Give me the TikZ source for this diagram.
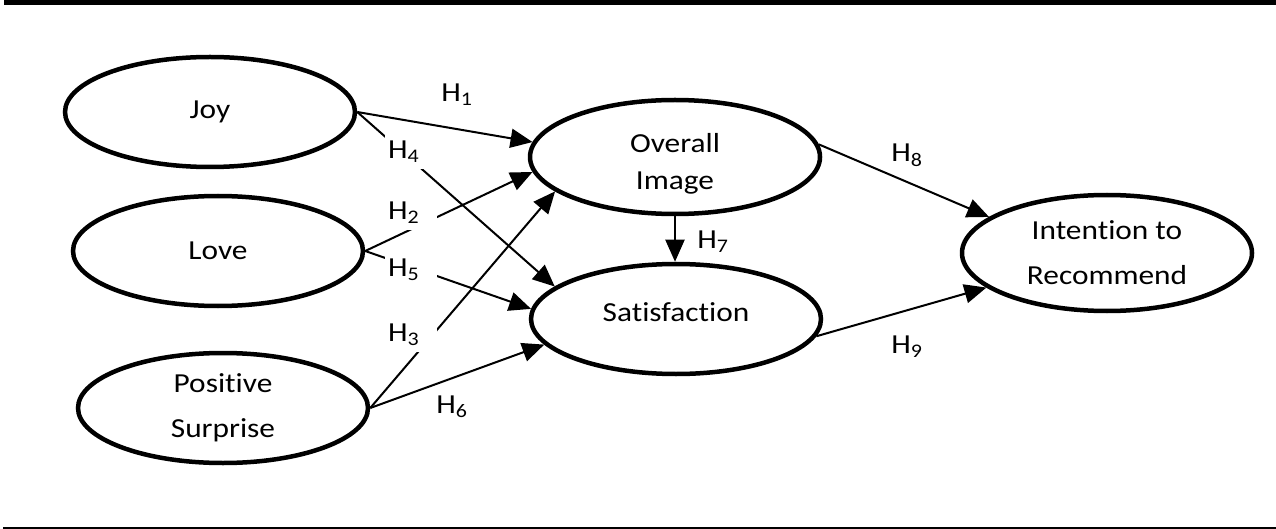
\documentclass[tikz,border=0pt]{standalone}
\usepackage{fontspec}
\setmainfont[FakeStretch=1.14,Ligatures=NoCommon]{Carlito}
\usetikzlibrary{arrows.meta,shapes.geometric,calc}
\begin{document}
\begin{tikzpicture}[x=1pt,y=-1pt,
  construct/.style={ellipse,draw,line width=4.5pt,minimum width=290pt,minimum height=110pt,inner sep=0pt,align=center,font=\fontsize{27.5}{45}\selectfont},
  link/.style={line width=2pt,-{Triangle[length=22pt,width=19pt]}},
  hyp/.style={font=\fontsize{27.5}{33}\selectfont,inner sep=0pt},
  cut/.style={hyp,fill=white,text width=46pt,align=left,inner xsep=3pt,minimum height=34pt}]
\useasboundingbox (0,0) rectangle (1276,529);
\draw[line width=5pt] (4,2.5) -- (1276,2.5);
\draw[line width=2pt] (3,527.5) -- (1276,527.5);
% constructs
\node[construct] (joy) at (210,112) {Joy};
\node[construct] (love) at (218,251) {Love};
\node[construct] (ps) at (223,408) {Positive\\Surprise};
\node[construct,minimum height=114pt,font=\fontsize{27.5}{37}\selectfont] (oi) at (675,157) {\rule{0pt}{32pt}Overall\\Image};
\node[construct,text depth=14pt] (sat) at (676,319) {Satisfaction};
\node[construct,minimum height=116pt] (itr) at (1107,253) {Intention to\\Recommend};
% connectors
\draw[link] (joy.east) -- (oi.174);
\draw[link] (joy.east) -- (sat.165);
\draw[link] (love.east) -- (oi.186);
\draw[link] (love.east) -- (sat.176);
\draw[link] (ps.east) -- (oi.196);
\draw[link] (ps.east) -- (sat.191);
\draw[link] (oi.south) -- (oi.south |- sat.north);
\draw[link] (oi.5) -- (itr.163);
\draw[link] (sat.353) -- (itr.196);
% hypothesis labels
\node[hyp] (h1) at (457,95) {H\textsubscript{1}};
\node[cut] (h4) at (411,152) {H\textsubscript{4}};
\node[cut] (h2) at (411,213) {H\textsubscript{2}};
\node[cut] (h5) at (411,270) {H\textsubscript{5}};
\node[cut] (h3) at (411,335) {H\textsubscript{3}};
\node[hyp] (h6) at (452,407) {H\textsubscript{6}};
\node[hyp] (h7) at (713,242) {H\textsubscript{7}};
\node[hyp] (h8) at (907,155) {H\textsubscript{8}};
\node[hyp] (h9) at (907,347) {H\textsubscript{9}};
\end{tikzpicture}
\end{document}
